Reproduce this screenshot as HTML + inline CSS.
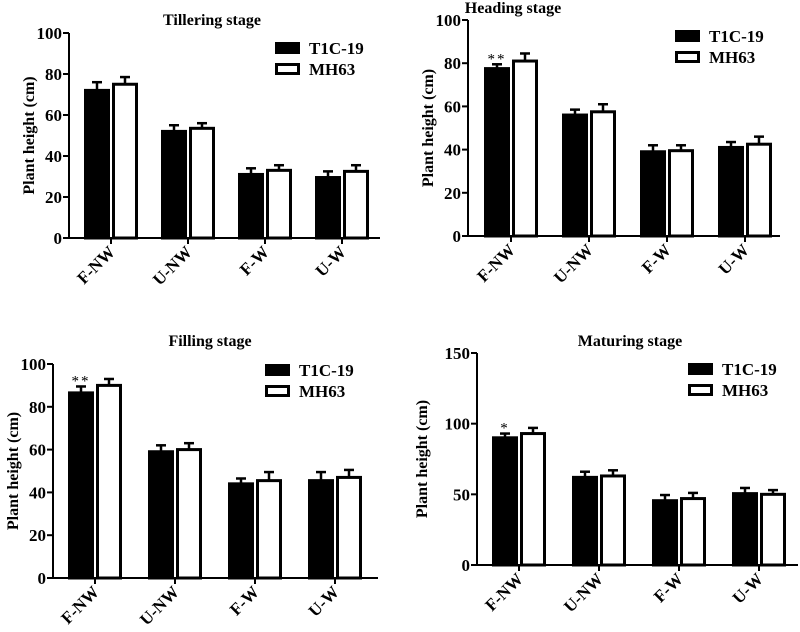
<!DOCTYPE html>
<html><head><meta charset="utf-8">
<style>
body{margin:0;background:#fff;}
svg{display:block;font-family:"Liberation Serif",serif;font-weight:bold;}
</style></head>
<body>
<svg id="chart" width="800" height="632" viewBox="0 0 800 632" xmlns="http://www.w3.org/2000/svg"></svg>
<script>
const categories = ["F-NW","U-NW","F-W","U-W"];
const tillerT1C = [72,52,31,29.5];
const tillerT1CErr = [4,3,3,3];
const tillerMH = [75,53.5,33,32.5];
const tillerMHErr = [3.5,2.5,2.5,3];
const headT1C = [77.5,56,39,41];
const headT1CErr = [2,2.5,3,2.5];
const headMH = [81,57.5,39.5,42.5];
const headMHErr = [3.5,3.5,2.5,3.5];
const fillT1C = [86.5,59,44,45.5];
const fillT1CErr = [3,3,2.5,4];
const fillMH = [90,60,45.5,47];
const fillMHErr = [3,3,4,3.5];
const matT1C = [90,62,45.5,50.5];
const matT1CErr = [3,4,4,4];
const matMH = [93,63,47,50];
const matMHErr = [4,4,4,3];
const yTicksA = [0,20,40,60,80,100];
const yTicksB = [0,50,100,150];

const NS="http://www.w3.org/2000/svg";
const svg=document.getElementById('chart');
function mk(tag,attrs,parent,text){const e=document.createElementNS(NS,tag);for(const k in attrs)e.setAttribute(k,attrs[k]);if(text!==undefined)e.textContent=text;(parent||svg).appendChild(e);return e;}

const panels=[
 {name:"tillering",title:"Tillering stage",tx:212,ty:25,ax:69,y0:238,yTop:33,ymax:100,xEnd:380,first:84,step:77,ticks:yTicksA,a:tillerT1C,ae:tillerT1CErr,b:tillerMH,be:tillerMHErr,lx:275,ly:42,ylx:34,star:""},
 {name:"heading",title:"Heading stage",tx:513,ty:13,ax:468,y0:236,yTop:20,ymax:100,xEnd:780,first:484,step:78,ticks:yTicksA,a:headT1C,ae:headT1CErr,b:headMH,be:headMHErr,lx:675,ly:30,ylx:433,star:"**"},
 {name:"filling",title:"Filling stage",tx:210,ty:346,ax:53,y0:578,yTop:364,ymax:100,xEnd:378,first:68,step:80,ticks:yTicksA,a:fillT1C,ae:fillT1CErr,b:fillMH,be:fillMHErr,lx:265,ly:364,ylx:18,star:"**"},
 {name:"maturing",title:"Maturing stage",tx:630,ty:346,ax:477,y0:565,yTop:353,ymax:150,xEnd:798,first:492,step:80,ticks:yTicksB,a:matT1C,ae:matT1CErr,b:matMH,be:matMHErr,lx:688,ly:363,ylx:427,star:"*"}
];
const BW=26;
panels.forEach(p=>{
  const g=mk('g',{});
  
  
  const ys=v=>p.y0-(v/p.ymax)*(p.y0-p.yTop);
  const t=mk('text',{x:p.tx,y:p.ty,'text-anchor':'middle','font-size':16},g,p.title);
  
  
  categories.forEach((c,i)=>{
    const xb=p.first+i*p.step;
    [[p.a,p.ae,'#000',0],[p.b,p.be,'#fff',BW+2]].forEach(([arr,err,fill,off],s)=>{
      const v=arr[i],x=xb+off,y=ys(v),ye=ys(v+err[i]);
      const cx=x+BW/2;
      const el=mk('line',{x1:cx,x2:cx,y1:y,y2:ye,stroke:'#000','stroke-width':2.5},g);
      
      
      const cap=mk('line',{x1:cx-5,x2:cx+5,y1:ye,y2:ye,stroke:'#000','stroke-width':2.5},g);
      
      
      const r=mk('rect',{x:x+1.5,y:y,width:BW-3,height:p.y0-y,fill:fill,stroke:'#000','stroke-width':3},g);
      
      
    });
    const tx=xb+BW+1;
    const tk=mk('line',{x1:tx,x2:tx,y1:p.y0,y2:p.y0+6,stroke:'#000','stroke-width':2},g);
    
    
    const lab=mk('text',{x:tx+5,y:p.y0+15,'text-anchor':'end','font-size':17,transform:`rotate(-45 ${tx+5} ${p.y0+15})`},g,c);
    
    
    if(i===0&&p.star){
      const st=mk('text',{x:xb+BW/2,y:ys(p.a[0]+p.ae[0])-1,'text-anchor':'middle','font-size':15,'font-weight':'normal','letter-spacing':2},g,p.star);
      
      
    }
  });
  const ya=mk('line',{x1:p.ax,x2:p.ax,y1:p.yTop,y2:p.y0+1,stroke:'#000','stroke-width':2},g);
  
  
  const xa=mk('line',{x1:p.ax-1,x2:p.xEnd,y1:p.y0,y2:p.y0,stroke:'#000','stroke-width':2},g);
  
  
  p.ticks.forEach(v=>{
    const y=ys(v);
    const tk=mk('line',{x1:p.ax-6,x2:p.ax,y1:y,y2:y,stroke:'#000','stroke-width':2},g);
    
    
    const tl=mk('text',{x:p.ax-7,y:y+6,'text-anchor':'end','font-size':17},g,v);
    
    
  });
  const cy=(p.y0+p.yTop)/2;
  const yl=mk('text',{x:p.ylx,y:cy,'text-anchor':'middle','font-size':16,transform:`rotate(-90 ${p.ylx} ${cy})`},g,'Plant height (cm)');
  
  
  [['T1C-19','#000'],['MH63','#fff']].forEach(([n,f],k)=>{
    const y=p.ly+k*21;
    const sw=mk('rect',{x:p.lx+1.5,y:y+1.5,width:22,height:9,fill:f,stroke:'#000','stroke-width':3},g);
    
    
    const lt=mk('text',{x:p.lx+34,y:y+12,'font-size':17},g,n);
    
    
  });
});
</script>
</body></html>
